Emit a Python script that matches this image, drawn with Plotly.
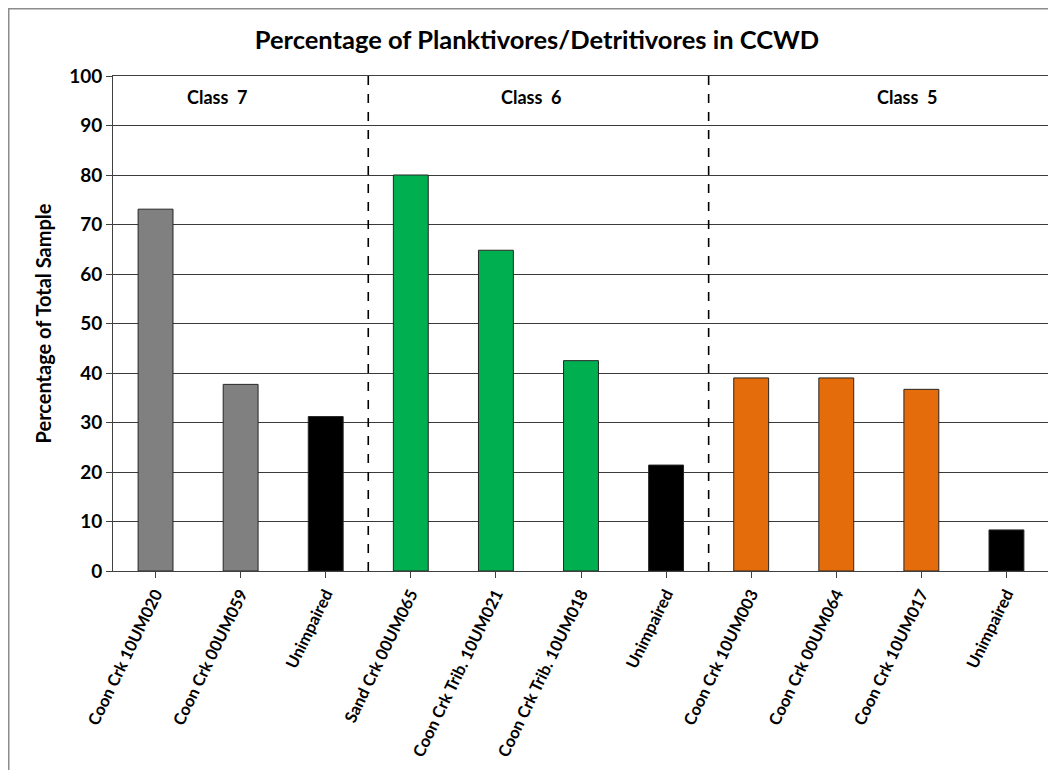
import plotly.graph_objects as go

categories = ["Coon Crk 10UM020", "Coon Crk 00UM059", "Unimpaired",
              "Sand Crk 00UM065", "Coon Crk Trib. 10UM021", "Coon Crk Trib. 10UM018", "Unimpaired",
              "Coon Crk 10UM003", "Coon Crk 00UM064", "Coon Crk 10UM017", "Unimpaired"]
values = [73.1, 37.7, 31.2, 80.0, 64.8, 42.5, 21.4, 39.0, 39.0, 36.7, 8.3]
bar_colors = ["#808080", "#808080", "#000000",
              "#00B050", "#00B050", "#00B050", "#000000",
              "#E46C0A", "#E46C0A", "#E46C0A", "#000000"]
class_labels = ["Class  7", "Class  6", "Class  5"]
class_label_x = [0.73, 4.42, 8.84]
divider_x = [2.5, 6.5]
y_ticks = list(range(0, 101, 10))

FONT = "Lato"
x_idx = list(range(len(categories)))

fig = go.Figure()
fig.add_trace(go.Bar(
    x=x_idx, y=values, width=0.41,
    marker=dict(color=bar_colors, line=dict(color="#262626", width=1)),
    hoverinfo="y",
))

# page has an 8px body margin; figure coordinates = screen - 8
W, H = 1048, 762
L, R, T, B = 105, 7, 68, 199
pw = W - L - R
ph = H - T - B

fig.update_layout(
    width=W, height=H,
    margin=dict(l=L, r=R, t=T, b=B),
    paper_bgcolor="white", plot_bgcolor="white",
    showlegend=False,
    title=dict(text="Percentage of Planktivores/Detritivores in CCWD",
               font=dict(family=FONT, size=25.5, color="black", weight="bold"),
               x=(537 - 8) / W, xanchor="center", y=1 - 32 / H, yanchor="middle"),
    font=dict(family=FONT, color="black"),
)
fig.update_xaxes(
    tickmode="array", tickvals=x_idx, ticktext=categories,
    range=[-0.5, len(categories) - 0.5],
    tickangle=-64,
    tickfont=dict(family=FONT, size=16.5, color="black", weight="bold"),
    showline=True, linecolor="#404040", linewidth=1, mirror=True,
    ticks="outside", ticklen=6, tickcolor="#404040",
    tickson="boundaries",
    showgrid=False, zeroline=False,
)
fig.update_yaxes(
    range=[0, 100], tickmode="array", tickvals=y_ticks,
    tickfont=dict(family=FONT, size=19, color="black", weight="bold"),
    title=dict(text="Percentage of Total Sample",
               font=dict(family=FONT, size=20, color="black", weight="bold"),
               standoff=12),
    showline=True, linecolor="#404040", linewidth=1, mirror=True,
    ticks="outside", ticklen=6, tickcolor="#404040",
    showgrid=True, gridcolor="#3a3a3a", gridwidth=1,
    zeroline=False,
)

for dx in divider_x:
    fig.add_shape(type="line", xref="x", yref="y", x0=dx, x1=dx, y0=0, y1=100,
                  line=dict(color="black", width=1.6, dash="dash"), layer="above")

for lbl, lx in zip(class_labels, class_label_x):
    fig.add_annotation(x=lx, y=95.8, xref="x", yref="y", text=lbl, showarrow=False,
                       font=dict(family=FONT, size=18, color="black", weight="bold"),
                       xanchor="center", yanchor="middle")

# outer chart border
fig.add_shape(type="rect", xref="paper", yref="paper",
              x0=(0.75 - L) / pw, x1=(W + 10 - L) / pw,
              y0=-(H + 10 - T - ph) / ph, y1=(T + ph - 0.75) / ph,
              line=dict(color="#8c8c8c", width=1.5), fillcolor="rgba(0,0,0,0)", layer="below")

fig.write_html("out.html")
